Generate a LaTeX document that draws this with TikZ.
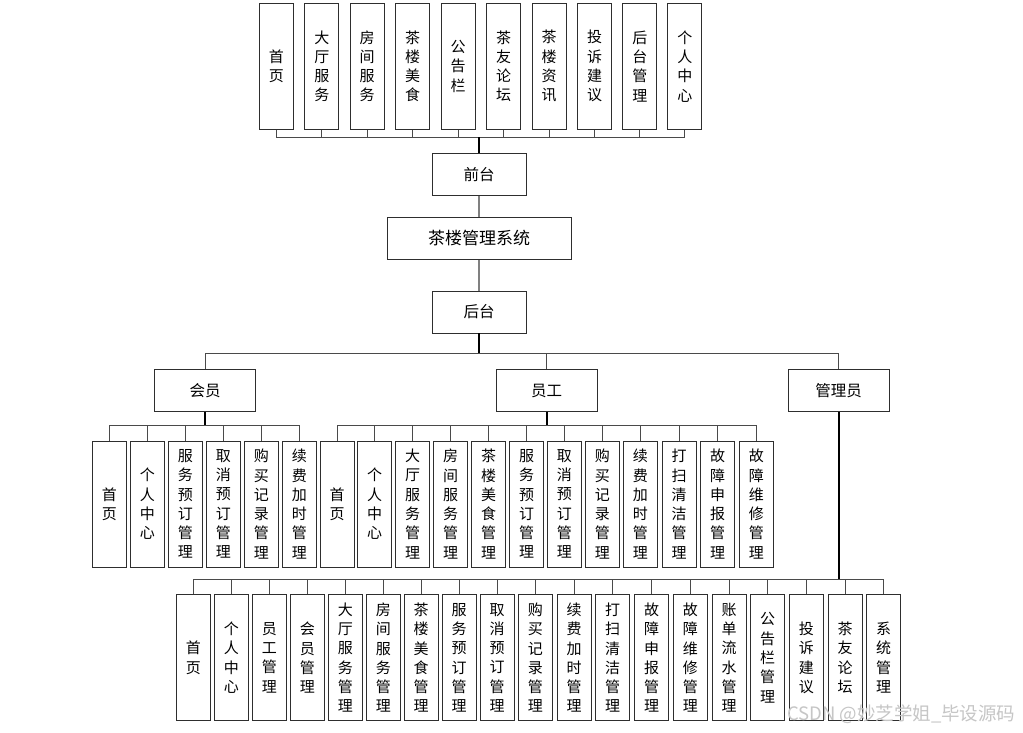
\documentclass[tikz,border=0pt]{standalone}
\usepackage{fontspec}
\setmainfont{Noto Sans CJK SC}
\definecolor{linegray}{HTML}{4A4A4A}
\definecolor{boxline}{HTML}{2E2E2E}
\tikzset{
  leaf/.style={draw=boxline, line width=0.9pt, minimum width=34, minimum height=126,
    inner sep=0pt, align=center, font=\fontsize{15}{19.3}\selectfont},
  head/.style={draw=boxline, line width=0.9pt, minimum height=42, inner sep=0pt,
    font=\fontsize{15.5}{18}\selectfont},
  link/.style={draw=linegray, line width=1pt},
  trunk/.style={draw=black, line width=1.9pt}
}

\begin{document}
\begin{tikzpicture}[x=1pt,y=-1pt]
\useasboundingbox[fill=white] (0,0) rectangle (1023,733);

% front end
\node[leaf] (qt1) at (276.3,66.3) {首\\页};
\node[leaf] (qt2) at (321.8,66.3) {大\\厅\\服\\务};
\node[leaf] (qt3) at (367.2,66.3) {房\\间\\服\\务};
\node[leaf] (qt4) at (412.7,66.3) {茶\\楼\\美\\食};
\node[leaf] (qt5) at (458.1,66.3) {公\\告\\栏};
\node[leaf] (qt6) at (503.6,66.3) {茶\\友\\论\\坛};
\node[leaf] (qt7) at (549.0,66.3) {茶\\楼\\资\\讯};
\node[leaf] (qt8) at (594.5,66.3) {投\\诉\\建\\议};
\node[leaf] (qt9) at (639.9,66.3) {后\\台\\管\\理};
\node[leaf] (qt10) at (684.9,66.3) {个\\人\\中\\心};

\node[head, minimum width=94] (qt) at (479,174.5) {前台};
\node[head, minimum width=184, font=\fontsize{17}{20}\selectfont] (xt) at (479,238.3) {茶楼管理系统};
\node[head, minimum width=94] (ht) at (479,312) {后台};

\coordinate (busqt) at (479,137.3);
\draw[link] (qt1.south) |- (busqt);
\draw[link] (qt2.south) |- (busqt);
\draw[link] (qt3.south) |- (busqt);
\draw[link] (qt4.south) |- (busqt);
\draw[link] (qt5.south) |- (busqt);
\draw[link] (qt6.south) |- (busqt);
\draw[link] (qt7.south) |- (busqt);
\draw[link] (qt8.south) |- (busqt);
\draw[link] (qt9.south) |- (busqt);
\draw[link] (qt10.south) |- (busqt);
\draw[trunk] (qt.north) -- (busqt);
\draw[link, line width=1.8pt, draw=gray] (qt.south) -- (xt.north);
\draw[link, line width=1.8pt, draw=gray] (xt.south) -- (ht.north);

% roles
\node[head, minimum width=101] (hy) at (205,390.5) {会员};
\node[head, minimum width=101] (yg) at (546.6,390.5) {员工};
\node[head, minimum width=101] (gly) at (838.6,390.5) {管理员};

\coordinate (busht) at (479,353.7);
\draw[trunk] (ht.south) -- (busht);
\draw[link] (hy.north) |- (busht);
\draw[link] (yg.north) |- (busht);
\draw[link] (gly.north) |- (busht);

% member
\node[leaf] (hy1) at (109.3,504) {首\\页};
\node[leaf] (hy2) at (147.3,504) {个\\人\\中\\心};
\node[leaf] (hy3) at (185.3,504) {服\\务\\预\\订\\管\\理};
\node[leaf] (hy4) at (223.3,504) {取\\消\\预\\订\\管\\理};
\node[leaf] (hy5) at (261.3,504) {购\\买\\记\\录\\管\\理};
\node[leaf] (hy6) at (299.3,504) {续\\费\\加\\时\\管\\理};

\coordinate (bushy) at (205,425);
\draw[trunk] (hy.south) -- (bushy);
\draw[link] (hy1.north) |- (bushy);
\draw[link] (hy2.north) |- (bushy);
\draw[link] (hy3.north) |- (bushy);
\draw[link] (hy4.north) |- (bushy);
\draw[link] (hy5.north) |- (bushy);
\draw[link] (hy6.north) |- (bushy);

% staff
\node[leaf] (yg1) at (337,504) {首\\页};
\node[leaf] (yg2) at (374.7,504) {个\\人\\中\\心};
\node[leaf] (yg3) at (412.7,504) {大\\厅\\服\\务\\管\\理};
\node[leaf] (yg4) at (450.7,504) {房\\间\\服\\务\\管\\理};
\node[leaf] (yg5) at (488.7,504) {茶\\楼\\美\\食\\管\\理};
\node[leaf] (yg6) at (526.7,504) {服\\务\\预\\订\\管\\理};
\node[leaf] (yg7) at (564.3,504) {取\\消\\预\\订\\管\\理};
\node[leaf] (yg8) at (602.3,504) {购\\买\\记\\录\\管\\理};
\node[leaf] (yg9) at (640.3,504) {续\\费\\加\\时\\管\\理};
\node[leaf] (yg10) at (679,504) {打\\扫\\清\\洁\\管\\理};
\node[leaf] (yg11) at (717.7,504) {故\\障\\申\\报\\管\\理};
\node[leaf] (yg12) at (756.3,504) {故\\障\\维\\修\\管\\理};

\coordinate (busyg) at (546.6,425);
\draw[trunk] (yg.south) -- (busyg);
\draw[link] (yg1.north) |- (busyg);
\draw[link] (yg2.north) |- (busyg);
\draw[link] (yg3.north) |- (busyg);
\draw[link] (yg4.north) |- (busyg);
\draw[link] (yg5.north) |- (busyg);
\draw[link] (yg6.north) |- (busyg);
\draw[link] (yg7.north) |- (busyg);
\draw[link] (yg8.north) |- (busyg);
\draw[link] (yg9.north) |- (busyg);
\draw[link] (yg10.north) |- (busyg);
\draw[link] (yg11.north) |- (busyg);
\draw[link] (yg12.north) |- (busyg);

% admin
\node[leaf] (gly1) at (193.3,657.7) {首\\页};
\node[leaf] (gly2) at (231.3,657.7) {个\\人\\中\\心};
\node[leaf] (gly3) at (269.3,657.7) {员\\工\\管\\理};
\node[leaf] (gly4) at (307.3,657.7) {会\\员\\管\\理};
\node[leaf] (gly5) at (345.3,657.7) {大\\厅\\服\\务\\管\\理};
\node[leaf] (gly6) at (383.3,657.7) {房\\间\\服\\务\\管\\理};
\node[leaf] (gly7) at (421,657.7) {茶\\楼\\美\\食\\管\\理};
\node[leaf] (gly8) at (459,657.7) {服\\务\\预\\订\\管\\理};
\node[leaf] (gly9) at (497,657.7) {取\\消\\预\\订\\管\\理};
\node[leaf] (gly10) at (535.3,657.7) {购\\买\\记\\录\\管\\理};
\node[leaf] (gly11) at (574,657.7) {续\\费\\加\\时\\管\\理};
\node[leaf] (gly12) at (612.7,657.7) {打\\扫\\清\\洁\\管\\理};
\node[leaf] (gly13) at (651.7,657.7) {故\\障\\申\\报\\管\\理};
\node[leaf] (gly14) at (690.3,657.7) {故\\障\\维\\修\\管\\理};
\node[leaf] (gly15) at (729,657.7) {账\\单\\流\\水\\管\\理};
\node[leaf] (gly16) at (767.7,657.7) {公\\告\\栏\\管\\理};
\node[leaf] (gly17) at (806.3,657.7) {投\\诉\\建\\议};
\node[leaf] (gly18) at (845,657.7) {茶\\友\\论\\坛};
\node[leaf] (gly19) at (883.7,657.7) {系\\统\\管\\理};

\coordinate (busgly) at (838.6,579);
\draw[trunk] (gly.south) -- (busgly);
\draw[link] (gly1.north) |- (busgly);
\draw[link] (gly2.north) |- (busgly);
\draw[link] (gly3.north) |- (busgly);
\draw[link] (gly4.north) |- (busgly);
\draw[link] (gly5.north) |- (busgly);
\draw[link] (gly6.north) |- (busgly);
\draw[link] (gly7.north) |- (busgly);
\draw[link] (gly8.north) |- (busgly);
\draw[link] (gly9.north) |- (busgly);
\draw[link] (gly10.north) |- (busgly);
\draw[link] (gly11.north) |- (busgly);
\draw[link] (gly12.north) |- (busgly);
\draw[link] (gly13.north) |- (busgly);
\draw[link] (gly14.north) |- (busgly);
\draw[link] (gly15.north) |- (busgly);
\draw[link] (gly16.north) |- (busgly);
\draw[link] (gly17.north) |- (busgly);
\draw[link] (gly18.north) |- (busgly);
\draw[link] (gly19.north) |- (busgly);

\node[anchor=east, text=gray!45, font=\fontsize{18.5}{20}\selectfont] (wm) at (1019,714) {CSDN @妙芝学姐\_毕设源码};
\end{tikzpicture}
\end{document}
